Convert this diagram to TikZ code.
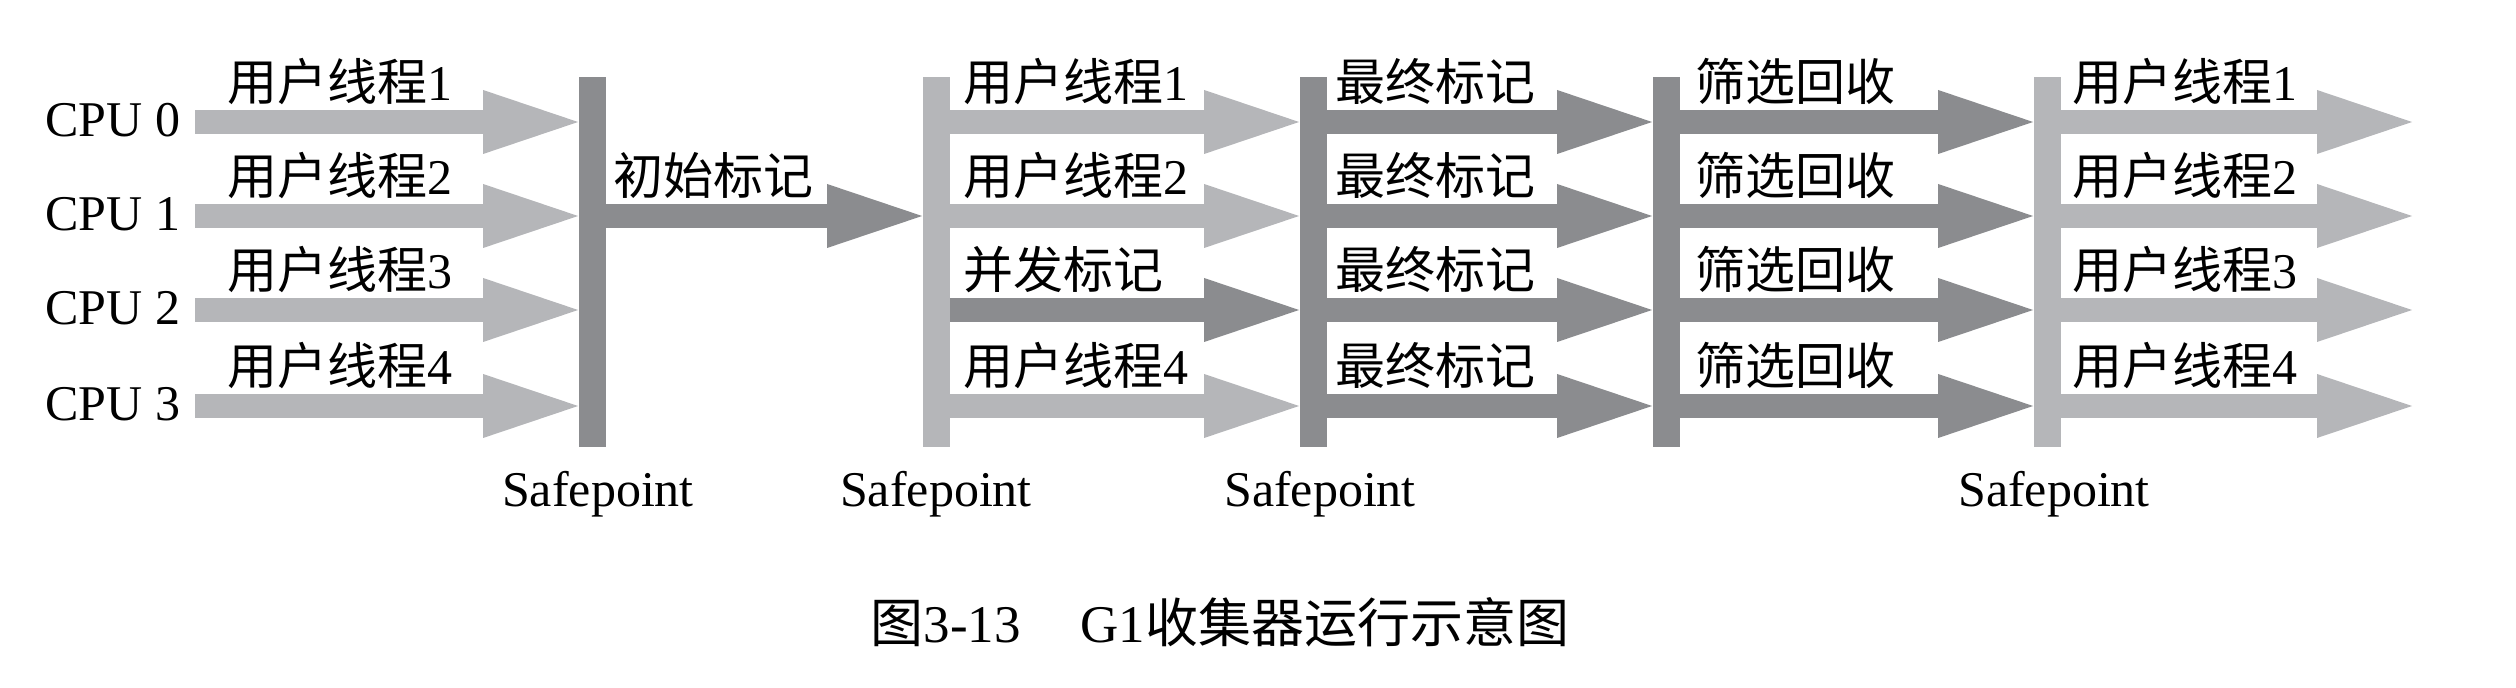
\documentclass[tikz,border=0pt]{standalone}
\usepackage{fontspec}
\setmainfont{Liberation Serif}
\newfontfamily\cjk{Noto Sans CJK SC}
\usetikzlibrary{arrows.meta}
\definecolor{lg}{RGB}{181,182,185}
\definecolor{dg}{RGB}{139,140,143}
\begin{document}
\begin{tikzpicture}[x=0.5pt,y=-0.5pt,
  txt/.style={inner sep=0pt, anchor=base west, font=\fontsize{25pt}{30pt}\selectfont},
  sp/.style={inner sep=0pt, anchor=base, font=\fontsize{25pt}{30pt}\selectfont},
  bar/.style={fill=#1, draw=none, inner sep=0pt, minimum width=13.5pt, minimum height=185pt},
  arr/.style={draw=#1, line width=12pt, -{Triangle[width=32pt,length=47.5pt,line width=0pt]}},
]
\useasboundingbox (0,0) rectangle (2516,688);

% bars
\node[bar=dg] (b1) at (592,262) {};
\node[bar=lg] (b2) at (936,262) {};
\node[bar=dg] (b3) at (1313,262) {};
\node[bar=dg] (b4) at (1666,262) {};
\node[bar=lg] (b5) at (2047,262) {};

% row coordinates
\coordinate (s0) at (195,122);
\coordinate (s1) at (195,216);
\coordinate (s2) at (195,310);
\coordinate (s3) at (195,406);
\coordinate (e0) at (2412,122);
\coordinate (e1) at (2412,216);
\coordinate (e2) at (2412,310);
\coordinate (e3) at (2412,406);

% CPU labels
\node[txt] (cpu0) at (45,137) {CPU 0};
\node[txt] (cpu1) at (45,231) {CPU 1};
\node[txt] (cpu2) at (45,325) {CPU 2};
\node[txt] (cpu3) at (45,421) {CPU 3};

% column 1
\foreach \i in {0,...,3} {
  \draw[arr=lg] (s\i) -- (b1.west |- s\i);
}
\node[txt] (l10) at (227,101) {{\cjk 用户线程}1};
\node[txt] (l11) at (227,195) {{\cjk 用户线程}2};
\node[txt] (l12) at (227,289) {{\cjk 用户线程}3};
\node[txt] (l13) at (227,385) {{\cjk 用户线程}4};

% initial mark
\draw[arr=dg] (b1.east |- s1) -- (b2.west |- s1);
\node[txt] (init) at (613,195) {\cjk 初始标记};

% column 2
\draw[arr=lg] (b2.east |- s0) -- (b3.west |- s0);
\draw[arr=lg] (b2.east |- s1) -- (b3.west |- s1);
\draw[arr=dg] (b2.east |- s2) -- (b3.west |- s2);
\draw[arr=lg] (b2.east |- s3) -- (b3.west |- s3);
\node[txt] (l20) at (963,101) {{\cjk 用户线程}1};
\node[txt] (l21) at (963,195) {{\cjk 用户线程}2};
\node[txt] (l22) at (963,289) {\cjk 并发标记};
\node[txt] (l23) at (963,385) {{\cjk 用户线程}4};

% column 3
\foreach \i in {0,...,3} {
  \draw[arr=dg] (b3.east |- s\i) -- (b4.west |- s\i);
}
\node[txt] (l30) at (1335,101) {\cjk 最终标记};
\node[txt] (l31) at (1335,195) {\cjk 最终标记};
\node[txt] (l32) at (1335,289) {\cjk 最终标记};
\node[txt] (l33) at (1335,385) {\cjk 最终标记};

% column 4
\foreach \i in {0,...,3} {
  \draw[arr=dg] (b4.east |- s\i) -- (b5.west |- s\i);
}
\node[txt] (l40) at (1695,101) {\cjk 筛选回收};
\node[txt] (l41) at (1695,195) {\cjk 筛选回收};
\node[txt] (l42) at (1695,289) {\cjk 筛选回收};
\node[txt] (l43) at (1695,385) {\cjk 筛选回收};

% column 5
\foreach \i in {0,...,3} {
  \draw[arr=lg] (b5.east |- e\i) -- (e\i);
}
\node[txt] (l50) at (2072,101) {{\cjk 用户线程}1};
\node[txt] (l51) at (2072,195) {{\cjk 用户线程}2};
\node[txt] (l52) at (2072,289) {{\cjk 用户线程}3};
\node[txt] (l53) at (2072,385) {{\cjk 用户线程}4};

% safepoint labels
\node[sp] (sp1) at (598,507) {Safepoint};
\node[sp] (sp2) at (936,507) {Safepoint};
\node[sp] (sp3) at (1320,507) {Safepoint};
\node[sp] (sp5) at (2054,507) {Safepoint};

% caption
\node[inner sep=0pt, anchor=base, font=\fontsize{26.5pt}{32pt}\selectfont] (cap) at (1220,643)
  {{\cjk 图}3-13\hspace{30pt}G1{\cjk 收集器运行示意图}};
\end{tikzpicture}
\end{document}
